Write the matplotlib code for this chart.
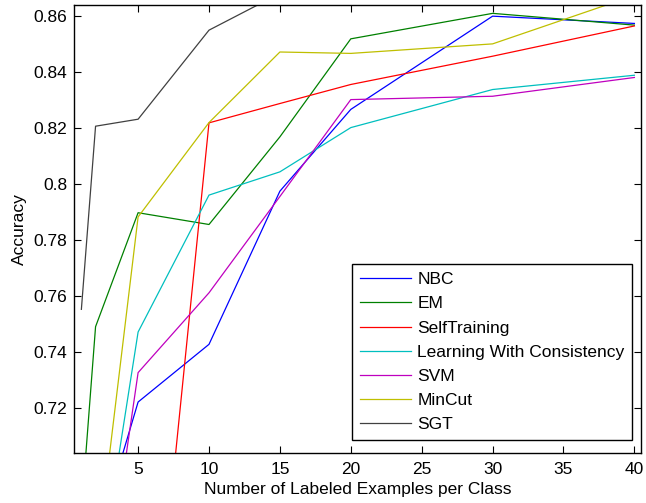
import matplotlib
matplotlib.use('Agg')
import matplotlib.pyplot as plt

plt.rcParams['font.family'] = ['Liberation Sans', 'DejaVu Sans']

# number of labeled examples per class
x = [1, 2, 5, 10, 15, 20, 30, 40]

nbc = [0.600, 0.671, 0.7221, 0.7427, 0.7974, 0.8266, 0.8599, 0.8573]
em = [0.6827, 0.7490, 0.7897, 0.7855, 0.8168, 0.8518, 0.8609, 0.8567]
self_training = [0.500, 0.530, 0.571, 0.8218, 0.8287, 0.8355, 0.8456, 0.8564]
lwc = [0.600, 0.650, 0.7471, 0.7960, 0.8043, 0.8201, 0.8337, 0.8388]
svm = [0.580, 0.628, 0.7326, 0.7611, 0.7955, 0.8301, 0.8313, 0.8380]
mincut = [0.620, 0.662, 0.7882, 0.8219, 0.8471, 0.8466, 0.8500, 0.8673]
sgt = [0.7552, 0.8206, 0.8231, 0.8549, 0.8680, 0.8720, 0.8760, 0.8800]

names = ['NBC', 'EM', 'SelfTraining', 'Learning With Consistency', 'SVM', 'MinCut', 'SGT']
series = [nbc, em, self_training, lwc, svm, mincut, sgt]
colors = [(0, 0, 1), (0, 0.5, 0), (1, 0, 0), (0, 0.75, 0.75),
          (0.75, 0, 0.75), (0.75, 0.75, 0), (0.25, 0.25, 0.25)]

fs = 12.5

fig = plt.figure(figsize=(6.46, 5.03), dpi=100)
ax = fig.add_axes([0.115, 0.100, 0.878, 0.8907])

for ys, name, c in zip(series, names, colors):
    ax.plot(x, ys, color=c, lw=0.9, label=name)

ax.set_xlim(0.5, 40.5)
ax.set_ylim(0.704, 0.864)
ax.set_xticks([5, 10, 15, 20, 25, 30, 35, 40])
ax.set_yticks([0.72, 0.74, 0.76, 0.78, 0.8, 0.82, 0.84, 0.86])
ax.set_yticklabels(['0.72', '0.74', '0.76', '0.78', '0.8', '0.82', '0.84', '0.86'])
ax.tick_params(direction='in', top=True, right=True, length=5, width=0.8,
               labelsize=fs)
ax.tick_params(axis='x', pad=7)
ax.tick_params(axis='y', pad=5)
for s in ax.spines.values():
    s.set_linewidth(1.0)

ax.set_xlabel('Number of Labeled Examples per Class', fontsize=fs, labelpad=3)
ax.set_ylabel('Accuracy', fontsize=fs, labelpad=5)

leg = ax.legend(loc='lower right', bbox_to_anchor=(0.984, 0.028), fontsize=fs,
                fancybox=False, framealpha=1, edgecolor='black',
                handlelength=2.95, handletextpad=0.35, labelspacing=0.52,
                borderpad=0.45, borderaxespad=0)
leg.get_frame().set_linewidth(1.0)

fig.savefig('out.png', dpi=100)
